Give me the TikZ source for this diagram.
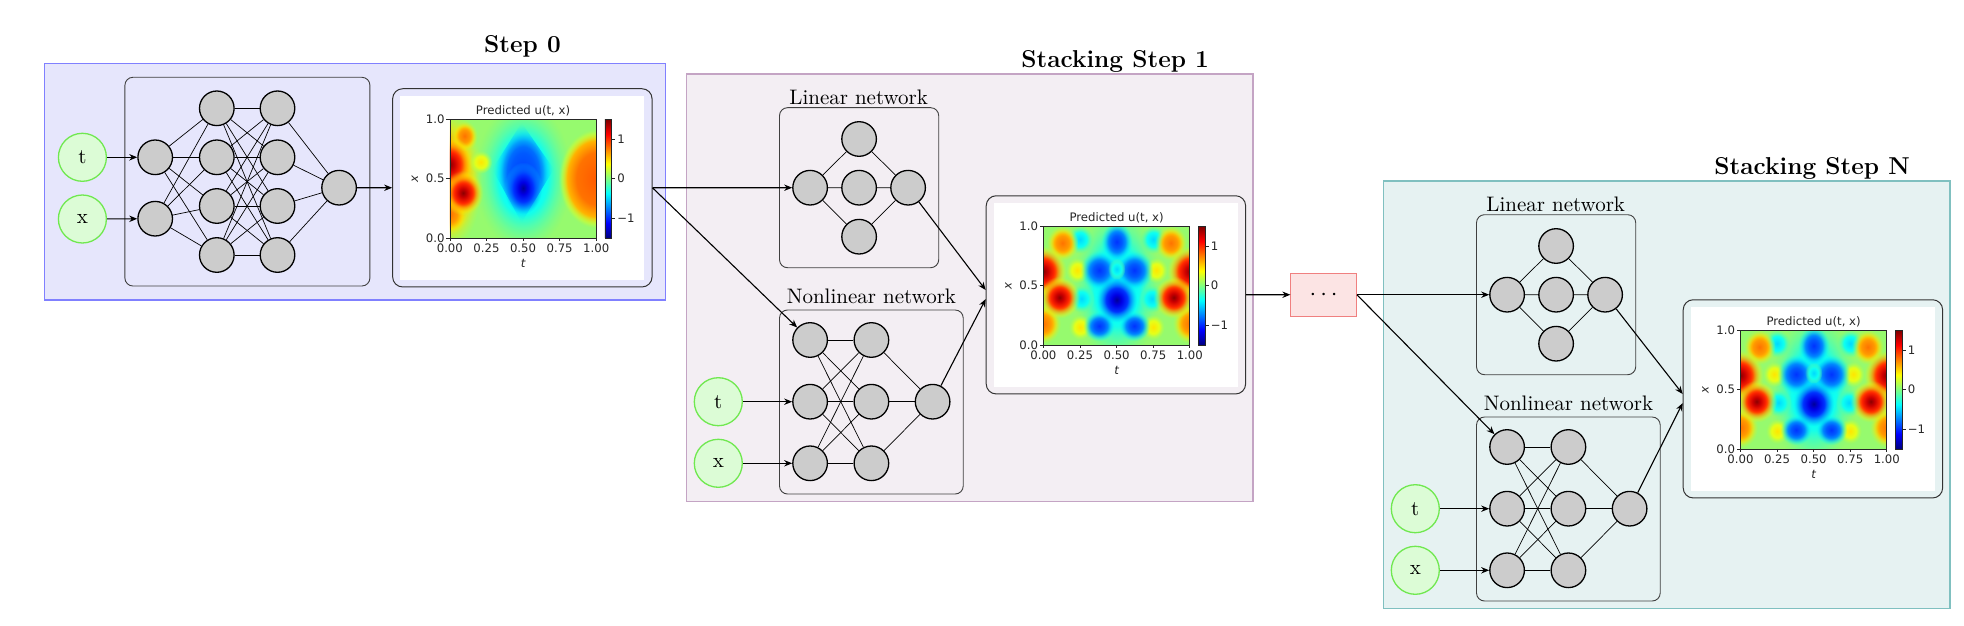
\documentclass[tikz,border=0pt]{standalone}
\usepackage{fontspec}
\usetikzlibrary{arrows.meta,calc,fadings}
\newfontfamily\mplfont{DejaVu Sans}

\definecolor{szDraw}{RGB}{128,128,255}
\definecolor{szFill}{RGB}{230,230,252}
\definecolor{soDraw}{RGB}{196,164,196}
\definecolor{soFill}{RGB}{243,238,243}
\definecolor{snDraw}{RGB}{128,192,192}
\definecolor{snFill}{RGB}{230,242,242}
\definecolor{dotsDraw}{RGB}{240,128,128}
\definecolor{dotsFill}{RGB}{252,228,228}
\definecolor{inDraw}{RGB}{112,232,80}
\definecolor{inFill}{RGB}{220,252,214}
\definecolor{neuronFill}{RGB}{204,204,204}
\definecolor{heatbg}{RGB}{150,250,110}

\pgfdeclareverticalshading{jetbar}{100bp}{rgb(0bp)=(0,0,0.5); rgb(25bp)=(0,0,0.5); rgb(31.25bp)=(0,0,1); rgb(43.75bp)=(0,1,1); rgb(56.25bp)=(1,1,0); rgb(68.75bp)=(1,0,0); rgb(75bp)=(0.5,0,0); rgb(100bp)=(0.5,0,0)}

\pgfdeclareradialshading{redb}{\pgfpointorigin}{rgb(0bp)=(0.55,0,0); rgb(5bp)=(0.8,0,0); rgb(11bp)=(1,0.15,0); rgb(16bp)=(1,0.55,0); rgb(21bp)=(1,0.9,0); rgb(25bp)=(0.75,1,0.25); rgb(50bp)=(0.75,1,0.25)}
\pgfdeclareradialshading{orangeb}{\pgfpointorigin}{rgb(0bp)=(1,0.45,0); rgb(10bp)=(1,0.6,0); rgb(18bp)=(1,0.88,0); rgb(25bp)=(0.75,1,0.25); rgb(50bp)=(0.75,1,0.25)}
\pgfdeclareradialshading{yellowb}{\pgfpointorigin}{rgb(0bp)=(1,0.9,0); rgb(12bp)=(0.9,1,0.1); rgb(25bp)=(0.65,1,0.35); rgb(50bp)=(0.65,1,0.35)}
\pgfdeclareradialshading{bluemidb}{\pgfpointorigin}{rgb(0bp)=(0,0.2,1); rgb(8bp)=(0,0.35,1); rgb(15bp)=(0,0.6,1); rgb(21bp)=(0,0.9,1); rgb(25bp)=(0.2,1,0.85); rgb(50bp)=(0.2,1,0.85)}
\pgfdeclareradialshading{diamondb}{\pgfpointorigin}{rgb(0bp)=(0,0.25,1); rgb(10bp)=(0,0.35,1); rgb(16bp)=(0,0.5,1); rgb(20bp)=(0,0.8,1); rgb(25bp)=(0.2,1,0.85); rgb(50bp)=(0.2,1,0.85)}
\pgfdeclareradialshading{blueb}{\pgfpointorigin}{rgb(0bp)=(0,0,0.6); rgb(6bp)=(0,0,0.9); rgb(13bp)=(0,0.2,1); rgb(20bp)=(0,0.5,1); rgb(25bp)=(0,0.8,1); rgb(50bp)=(0,0.8,1)}
\pgfdeclareradialshading{cyanb}{\pgfpointorigin}{rgb(0bp)=(0,0.85,1); rgb(12bp)=(0.05,1,0.95); rgb(25bp)=(0.4,1,0.6); rgb(50bp)=(0.4,1,0.6)}
\pgfdeclareradialshading{plateaub}{\pgfpointorigin}{rgb(0bp)=(1,0.35,0); rgb(13bp)=(1,0.45,0); rgb(19bp)=(1,0.7,0); rgb(23bp)=(0.95,1,0.05); rgb(25bp)=(0.75,1,0.25); rgb(50bp)=(0.75,1,0.25)}

\pgfdeclareradialshading{blobmask}{\pgfpointorigin}{rgb(0bp)=(1,1,1); rgb(13bp)=(1,1,1); rgb(25bp)=(0,0,0); rgb(50bp)=(0,0,0)}
\pgfdeclarefading{blobfade}{\pgfuseshading{blobmask}}
\pgfdeclareradialshading{platemask}{\pgfpointorigin}{rgb(0bp)=(1,1,1); rgb(19bp)=(1,1,1); rgb(25bp)=(0,0,0); rgb(50bp)=(0,0,0)}
\pgfdeclarefading{platefade}{\pgfuseshading{platemask}}

\tikzset{
  neuron/.style={circle, draw=black, line width=0.65pt, fill=neuronFill, minimum size=17.3pt, inner sep=0pt},
  inp/.style={circle, draw=inDraw, line width=0.65pt, fill=inFill, minimum size=24pt, inner sep=0pt, font=\fontsize{10.5}{12}\selectfont},
  nnbox/.style={draw=black!75, line width=0.45pt, rounded corners=4pt},
  plotbox/.style={draw=black!80, line width=0.5pt, rounded corners=5pt, minimum width=129.7pt, minimum height=99.1pt, inner sep=0pt},
  dotsbox/.style={draw=dotsDraw, fill=dotsFill, line width=0.5pt, minimum width=32.75pt, minimum height=21.35pt, inner sep=0pt, font=\large},
  edge/.style={line width=0.35pt, black},
  conn/.style={line width=0.55pt, black, -{Stealth[length=4pt,width=3.2pt]}},
  stepbox/.style={line width=0.6pt},
  steptitle/.style={font=\fontsize{12.2}{14}\selectfont\bfseries},
  netlabel/.style={font=\fontsize{10.5}{12}\selectfont},
  mpl/.style={font=\fontsize{5.85}{7}\selectfont\mplfont, inner sep=0pt, text=black!85},
  tickline/.style={line width=0.35pt, black!85},
}

% a soft colour blob: shading, t, x, radius in t, radius in x
\newcommand{\blob}[5]{\shade[shading=#1, path fading=blobfade] (#2,#3) ellipse [x radius=#4, y radius=#5];}
\newcommand{\blobsym}[5]{\blob{#1}{#2}{#3}{#4}{#5}\blob{#1}{{1-#2}}{#3}{#4}{#5}}

\newcommand{\blobszero}{%
  \blob{orangeb}{0}{0.5}{0.22}{0.6}
  \blob{cyanb}{0.5}{0.52}{0.33}{0.62}
  \blob{orangeb}{0}{0.2}{0.12}{0.17}
  \blob{orangeb}{0.1}{0.86}{0.09}{0.13}
  \blob{yellowb}{0.21}{0.64}{0.08}{0.1}
  \blob{redb}{0}{0.62}{0.16}{0.24}
  \blob{redb}{0.09}{0.38}{0.14}{0.19}
  \shade[shading=diamondb, path fading=blobfade] (0.49,0.97) -- (0.71,0.58) -- (0.49,0.13) -- (0.29,0.58) -- cycle;
  \blob{blueb}{0.5}{0.42}{0.13}{0.22}
  \shade[shading=plateaub, path fading=platefade] (1,0.5) ellipse [x radius=0.26, y radius=0.42];
}
\newcommand{\blobsone}{%
  \blob{cyanb}{0.5}{0.5}{0.3}{0.65}
  \blobsym{cyanb}{0.25}{0.89}{0.09}{0.12}
  \blobsym{cyanb}{0.26}{0.39}{0.09}{0.12}
  \blobsym{yellowb}{0.23}{0.63}{0.08}{0.11}
  \blobsym{yellowb}{0.25}{0.15}{0.08}{0.11}
  \blobsym{orangeb}{0.13}{0.86}{0.11}{0.15}
  \blobsym{orangeb}{0}{0.18}{0.12}{0.17}
  \blobsym{redb}{0}{0.62}{0.16}{0.22}
  \blobsym{redb}{0.11}{0.40}{0.14}{0.18}
  \blobsym{bluemidb}{0.38}{0.63}{0.13}{0.17}
  \blob{bluemidb}{0.5}{0.87}{0.11}{0.17}
  \blobsym{bluemidb}{0.38}{0.16}{0.11}{0.13}
  \blob{blueb}{0.5}{0.38}{0.14}{0.19}
  \blob{cyanb}{0.5}{0.64}{0.06}{0.09}
}

% heat map area in unit coordinates (t to the right, x up), relative to the plot box centre
\newcommand{\heatarea}[1]{%
  \begin{scope}[shift={(-72.5,50)}, x=73.2pt, y=59.25pt]
    \clip (0,0) rectangle (1,1);
    \fill[heatbg] (0,0) rectangle (1,1);
    #1
  \end{scope}}

% one stacking step, drawn in Step 1 coordinates; #4 = y of the plot box
\newcommand{\stackcontent}[4]{%
  \draw[stepbox, draw=#1, fill=#2] (686.5,74) rectangle (1252.9,501.7);
  \node[steptitle] (title) at (1115.1,61.7) {#3};
  \node[netlabel] (linlab) at (858.7,97.3) {Linear network};
  \draw[nnbox] (779.5,107.7) rectangle (938.7,267.7);
  \node[neuron] (l1) at (810.1,187.7) {};
  \node[neuron] (l2) at (859.1,187.7) {};
  \node[neuron] (l3) at (908.1,187.7) {};
  \node[neuron] (lt) at (859.1,139) {};
  \node[neuron] (lb) at (859.1,236.7) {};
  \draw[edge] (l1) -- (lt) (l1) -- (l2) (l1) -- (lb) (lt) -- (l3) (l2) -- (l3) (lb) -- (l3);
  \node[netlabel] (nllab) at (871.4,296.7) {Nonlinear network};
  \draw[nnbox] (779.5,310) rectangle (963.2,494);
  \foreach \k/\yy in {1/340,2/401.7,3/463.3} {
    \node[neuron] (a\k) at (810.1,\yy) {};
    \node[neuron] (b\k) at (871.4,\yy) {};
  }
  \node[neuron] (c) at (932.6,401.7) {};
  \foreach \i in {1,2,3} {
    \foreach \k in {1,2,3} {\draw[edge] (a\i) -- (b\k);}
    \draw[edge] (b\i) -- (c);
  }
  \node[inp] (t) at (718.3,401.7) {t};
  \node[inp] (x) at (718.3,463.3) {x};
  \draw[conn] (t) -- (a2);
  \draw[conn] (x) -- (a3);
  \node[plotbox] (p) at (1115.9,#4) {};
  \fill[white] ($(p.center)+(-122.1,-92.2)$) rectangle ($(p.center)+(122.1,92.4)$);
  \draw[conn] (l3) -- ([yshift=2.4pt]p.west);
  \draw[conn] (c) -- ([yshift=-2.1pt]p.west);
}

% matplotlib frame, ticks, labels and colour bar, relative to the plot box centre
\newcommand{\heatdeco}{%
  \draw[tickline] (-72.5,-68.5) rectangle (73.9,50);
  \foreach \k/\lab in {0/0.00,1/0.25,2/0.50,3/0.75,4/1.00} {
    \draw[tickline] ({-72.5+36.6*\k},50) -- ({-72.5+36.6*\k},53.5);
    \node[mpl] at ({-72.5+36.6*\k},60.3) {\lab};
  }
  \foreach \k/\lab in {0/0.0,1/0.5,2/1.0} {
    \draw[tickline] (-72.5,{50-59.25*\k}) -- (-76,{50-59.25*\k});
    \node[mpl, anchor=east] at (-77.5,{50-59.25*\k}) {\lab};
  }
  \node[mpl] at (0.7,75.3) {\itshape t};
  \node[mpl, rotate=90] at (-107.5,-9.25) {\itshape x};
  \node[mpl] at (0.7,-77.2) {Predicted u(t, x)};
  \shade[shading=jetbar] (82.5,-68.5) rectangle (89.2,50);
  \draw[tickline, line width=0.3pt] (82.5,-68.5) rectangle (89.2,50);
  \foreach \v/\lab in {1/1,0/0,-1/−1} {
    \draw[tickline] (89.2,{-9.25-39.5*\v}) -- (92.7,{-9.25-39.5*\v});
    \node[mpl, anchor=west] at (94.5,{-9.25-39.5*\v}) {\lab};
  }
}

\begin{document}
\begin{tikzpicture}
\begin{scope}[x=0.5pt,y=-0.5pt]
  \useasboundingbox (0,0) rectangle (1964,626);
  % ---------- Step 0 ----------
  \draw[stepbox, draw=szDraw, fill=szFill] (44.2,63.3) rectangle (665.7,300);
  \node[steptitle] (t0) at (522.5,46) {Step 0};
  \draw[nnbox] (124.9,77.3) rectangle (369.9,286);
  \node[inp] (z-t) at (82.4,157.3) {t};
  \node[inp] (z-x) at (82.4,219) {x};
  \node[neuron] (z-i1) at (155.2,157.3) {};
  \node[neuron] (z-i2) at (155.2,218.7) {};
  \foreach \k/\yy in {1/108.3,2/157.3,3/206,4/255} {
    \node[neuron] (z-h\k) at (216.8,\yy) {};
    \node[neuron] (z-g\k) at (277.5,\yy) {};
  }
  \node[neuron] (z-o) at (339.1,187.7) {};
  \foreach \i in {1,2} {\foreach \k in {1,...,4} {\draw[edge] (z-i\i) -- (z-h\k);}}
  \foreach \k in {1,...,4} {\foreach \m in {1,...,4} {\draw[edge] (z-h\k) -- (z-g\m);}}
  \foreach \m in {1,...,4} {\draw[edge] (z-g\m) -- (z-o);}
  \draw[conn] (z-t) -- (z-i1);
  \draw[conn] (z-x) -- (z-i2);
  \node[plotbox] (p0) at (522.35,187.85) {};
  \fill[white] ($(p0.center)+(-122.1,-92.2)$) rectangle ($(p0.center)+(122.1,92.4)$);
  \draw[conn] (z-o) -- (p0);
  % ---------- Stacking Step 1 ----------
  \begin{scope}[name prefix=s1-]
    \stackcontent{soDraw}{soFill}{Stacking Step 1}{294.85}
  \end{scope}
  % ---------- Stacking Step N ----------
  \begin{scope}[shift={(697,107)}, name prefix=sn-]
    \stackcontent{snDraw}{snFill}{Stacking Step N}{291.85}
  \end{scope}
  % ---------- dots and inter-step connectors ----------
  \node[dotsbox] (dots) at (1323.6,294.7) {$\cdots$};
  \draw[conn] (p0) -- (s1-l1);
  \draw[conn] (p0.east) -- (s1-a1);
  \draw[conn] (s1-p) -- (dots);
  \draw[conn] (dots.east) -- (sn-l1);
  \draw[conn] (dots.east) -- (sn-a1);
  % ---------- the three predicted-u panels ----------
  \begin{scope}[shift={(p0.center)}] \heatarea{\blobszero} \heatdeco \end{scope}
  \begin{scope}[shift={(s1-p.center)}] \heatarea{\blobsone} \heatdeco \end{scope}
  \begin{scope}[shift={(sn-p.center)}] \heatarea{\blobsone} \heatdeco \end{scope}
\end{scope}
\end{tikzpicture}
\end{document}
